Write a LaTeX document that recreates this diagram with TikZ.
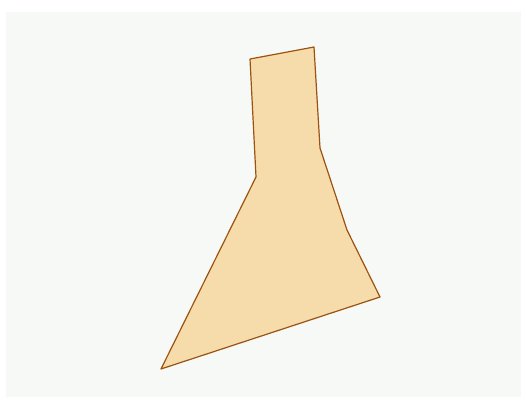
\documentclass[tikz,border=0pt]{standalone}
\usepackage{tikz}

\definecolor{paper}{HTML}{F7F9F6}
\definecolor{shapefill}{HTML}{F6DCAA}
\definecolor{shapeedge}{HTML}{9C5210}

\begin{document}
\begin{tikzpicture}[x=1pt,y=-1pt]
    % Page and background
    \useasboundingbox (0,0) rectangle (527,399);
    \fill[white] (0,0) rectangle (527,399);
    \fill[paper] (6,12) rectangle (521,397);

    % Outline of the polygon
    \coordinate (topleft) at (250,59);
    \coordinate (topright) at (314,47);
    \coordinate (neckright) at (320,148);
    \coordinate (waist) at (347,230);
    \coordinate (footright) at (380,297);
    \coordinate (footleft) at (161,369);
    \coordinate (neckleft) at (256,177);

    \draw[fill=shapefill,draw=shapeedge,line width=1.2pt,line join=round]
        (topleft) -- (topright) -- (neckright) -- (waist) -- (footright)
        -- (footleft) -- (neckleft) -- cycle;
\end{tikzpicture}
\end{document}
